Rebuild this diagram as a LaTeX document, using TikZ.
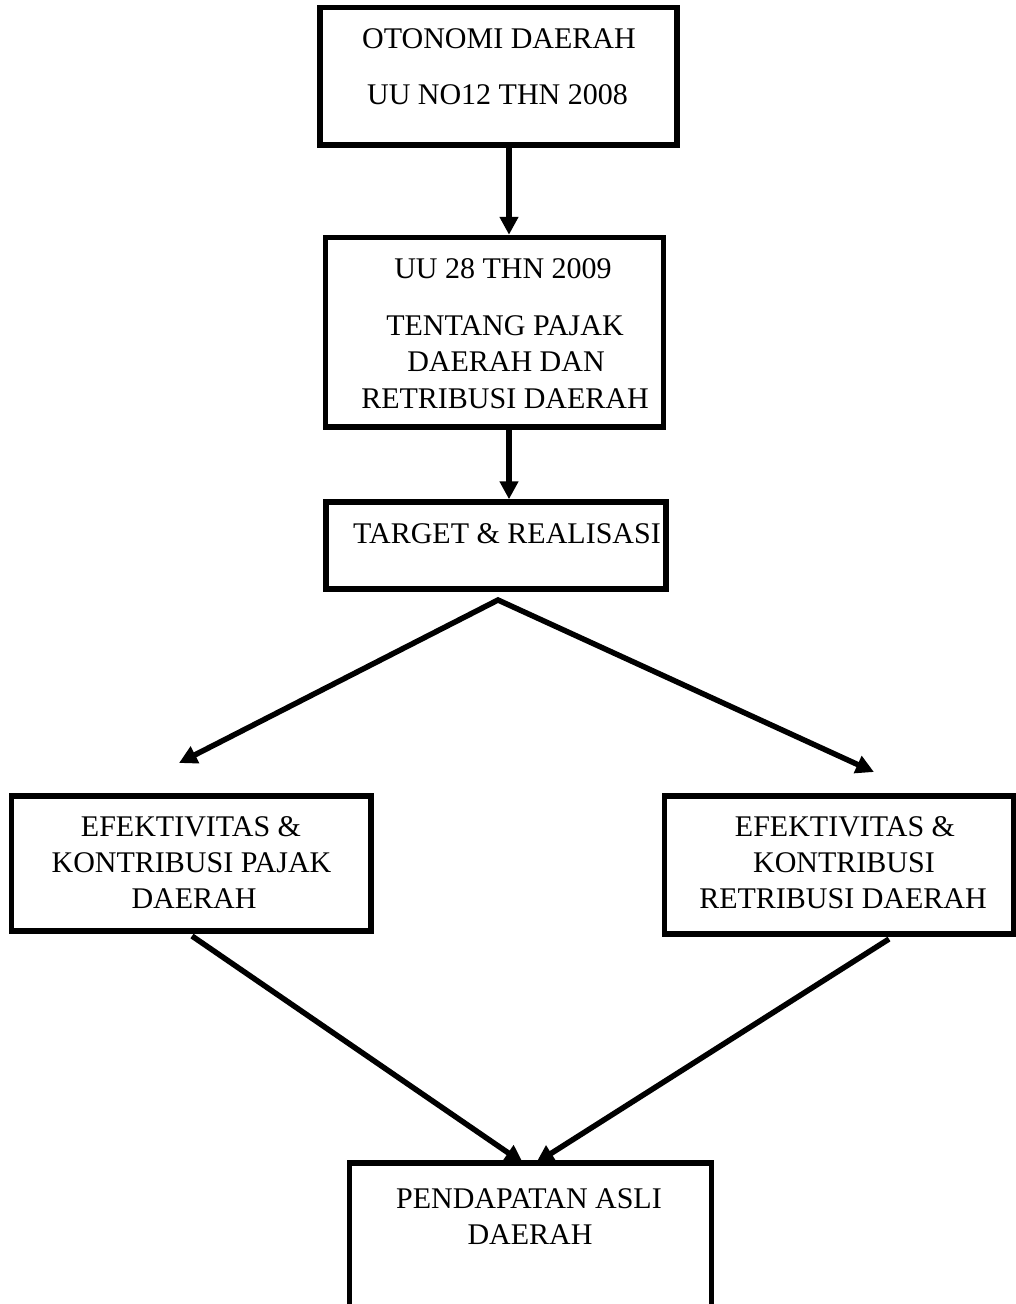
\documentclass[tikz,border=0pt]{standalone}
\usepackage{fontspec}
\setmainfont{Liberation Serif}
\usetikzlibrary{arrows.meta}
\begin{document}
\begin{tikzpicture}[x=1pt,y=-1pt,
  box/.style={draw,line width=5.5pt,inner sep=0pt},
  lbl/.style={anchor=base,inner sep=0pt,font=\fontsize{30}{36}\selectfont},
  tip/.tip={Triangle[length=18pt,width=18pt]},
  arr/.style={line width=5.5pt,-tip},
  darr/.style={line width=5.5pt,tip-tip,line join=miter}]
\useasboundingbox (0,0) rectangle (1016,1304);
\begin{scope}
\clip (0,0) rectangle (1016,1304);
% boxes
\node[box,minimum width=357pt,minimum height=137.5pt] (b1) at (498.5,76.25) {};
\node[box,minimum width=338pt,minimum height=189.5pt] (b2) at (494.5,332.25) {};
\node[box,minimum width=340pt,minimum height=87pt] (b3) at (496,545.5) {};
\node[box,minimum width=359.5pt,minimum height=135pt] (b4) at (191.25,863.5) {};
\node[box,minimum width=349pt,minimum height=138pt] (b5) at (839,865) {};
\node[box,minimum width=362pt,minimum height=180pt] (b6) at (530.5,1253) {};
\end{scope}
% texts
\node[lbl] (t1a) at (499,48) {OTONOMI DAERAH};
\node[lbl] (t1b) at (497.5,104) {UU NO12 THN 2008};
\node[lbl] (t2a) at (503,278) {UU 28 THN 2009};
\node[lbl] (t2b) at (505,335) {TENTANG PAJAK};
\node[lbl] (t2c) at (506,371.5) {DAERAH DAN};
\node[lbl] (t2d) at (505,408) {RETRIBUSI DAERAH};
\node[lbl] (t3a) at (507,543) {TARGET \& REALISASI};
\node[lbl] (t4a) at (191,836) {EFEKTIVITAS \&};
\node[lbl] (t4b) at (191.5,872) {KONTRIBUSI PAJAK};
\node[lbl] (t4c) at (194,908) {DAERAH};
\node[lbl] (t5a) at (845,836) {EFEKTIVITAS \&};
\node[lbl] (t5b) at (844,872) {KONTRIBUSI};
\node[lbl] (t5c) at (843,908) {RETRIBUSI DAERAH};
\node[lbl] (t6a) at (529,1208) {PENDAPATAN ASLI};
\node[lbl] (t6b) at (530,1244) {DAERAH};
% connectors
\coordinate (apex) at (498,600);
\coordinate (tipL) at (179,763);
\coordinate (tipR) at (874,772);
\coordinate (s4) at (192,936);
\coordinate (s5) at (889,939);
\coordinate (tip6L) at (523,1163);
\coordinate (tip6R) at (536,1163);
\draw[arr] ([xshift=10.5pt]b1.south) -- ([xshift=14.5pt]b2.north);
\draw[arr] ([xshift=14.5pt]b2.south) -- ([xshift=13pt]b3.north);
\draw[darr] (tipL) -- (apex) -- (tipR);
\draw[arr] (s4) -- (tip6L);
\draw[arr] (s5) -- (tip6R);
\end{tikzpicture}
\end{document}
